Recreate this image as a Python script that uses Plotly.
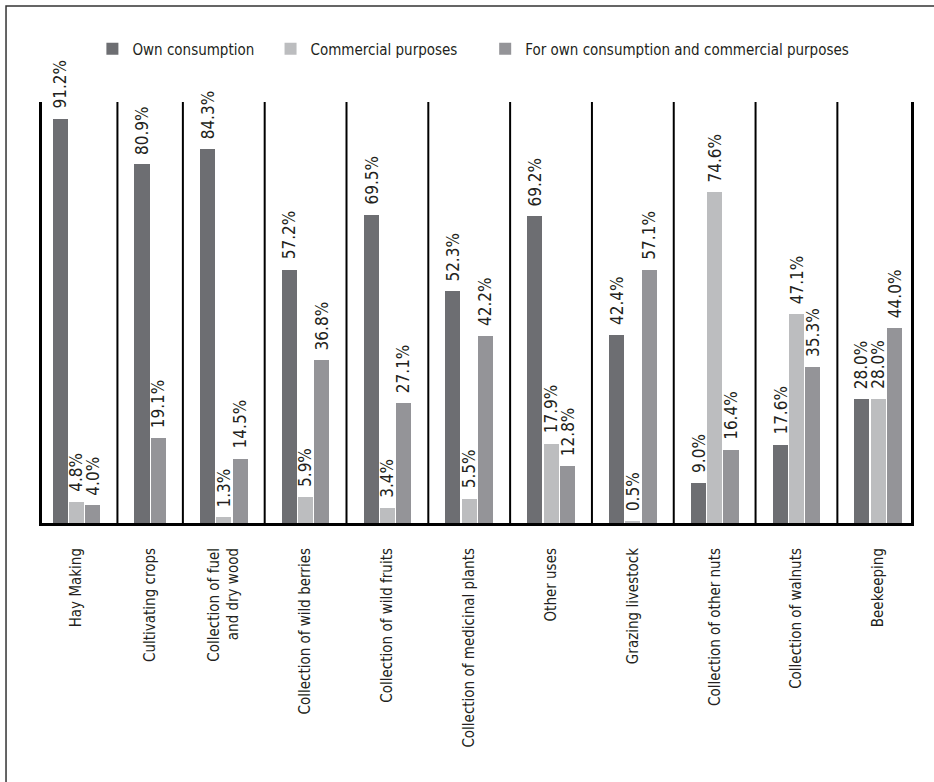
import plotly.graph_objects as go

categories = ["Hay Making", "Cultivating crops", "Collection of fuel<br>and dry wood",
              "Collection of wild berries", "Collection of wild fruits",
              "Collection of medicinal plants", "Other uses", "Grazing livestock",
              "Collection of other nuts", "Collection of walnuts", "Beekeeping"]
series_names = ["Own consumption", "Commercial purposes",
                "For own consumption and commercial purposes"]
own = [91.2, 80.9, 84.3, 57.2, 69.5, 52.3, 69.2, 42.4, 9.0, 17.6, 28.0]
commercial = [4.8, None, 1.3, 5.9, 3.4, 5.5, 17.9, 0.5, 74.6, 47.1, 28.0]
both = [4.0, 19.1, 14.5, 36.8, 27.1, 42.2, 12.8, 57.1, 16.4, 35.3, 44.0]
colors = ["#6d6e72", "#bcbdbf", "#949498"]
legend_x = [0.058, 0.263, 0.510]

FONT = "DejaVu Sans Condensed, Liberation Sans Narrow, sans-serif"
TXT = "#231f20"

all_series = [own, commercial, both]
positions = [[] for _ in all_series]
values = [[] for _ in all_series]
centers, dividers = [], []
slot = 0
for g in range(len(categories)):
    start = slot
    for k, s in enumerate(all_series):
        if s[g] is not None:
            positions[k].append(slot)
            values[k].append(s[g])
            slot += 1
    end = slot - 1
    centers.append((start + end) / 2)
    if g < len(categories) - 1:
        dividers.append(end + 1.5)
        slot += 2
last = slot - 1

fig = go.Figure()
legend_ids = ["legend", "legend2", "legend3"]
for k in range(3):
    fig.add_trace(go.Bar(x=positions[k], y=values[k], name=series_names[k],
                         marker=dict(color=colors[k], line=dict(width=0)),
                         width=0.92, legend=legend_ids[k]))
    for xp, v in zip(positions[k], values[k]):
        fig.add_annotation(x=xp, y=v, text=f"{v:.1f}%", textangle=-90,
                           showarrow=False, yanchor="bottom", xanchor="center",
                           yshift=8, font=dict(family=FONT, size=17, color=TXT))

for d in dividers:
    fig.add_shape(type="line", xref="x", yref="paper", x0=d, x1=d, y0=0, y1=1,
                  line=dict(color="black", width=2))

# outer frame (left and top edges)
fig.add_shape(type="path", xref="paper", yref="paper",
              path="M -0.0414,-0.7 L -0.0414,1.228 L 1.05,1.228",
              line=dict(color="#333333", width=1.5))

legend_common = dict(orientation="h", xanchor="left", y=1.126, yanchor="middle",
                     font=dict(family=FONT, size=15, color=TXT),
                     bgcolor="rgba(0,0,0,0)")

fig.update_layout(
    width=934, height=782,
    margin=dict(l=42, r=23, t=102, b=259, autoexpand=False),
    plot_bgcolor="white", paper_bgcolor="white",
    barmode="overlay", bargap=0,
    font=dict(family=FONT, size=16, color=TXT),
    showlegend=True,
    legend=dict(x=legend_x[0], **legend_common),
    legend2=dict(x=legend_x[1], **legend_common),
    legend3=dict(x=legend_x[2], **legend_common),
    xaxis=dict(range=[-1.11, last + 1.0], tickmode="array", tickvals=centers,
               ticktext=categories, tickangle=-90, ticks="", showgrid=False,
               zeroline=False, showline=True, linecolor="black", linewidth=3,
               automargin=False,
               ticklabelstandoff=16, tickfont=dict(family=FONT, size=15, color=TXT)),
    yaxis=dict(range=[0, 95], showticklabels=False, ticks="", showgrid=False,
               zeroline=False, showline=True, linecolor="black", linewidth=2.5,
               mirror=True, automargin=False),
)

fig.write_html("out.html")
